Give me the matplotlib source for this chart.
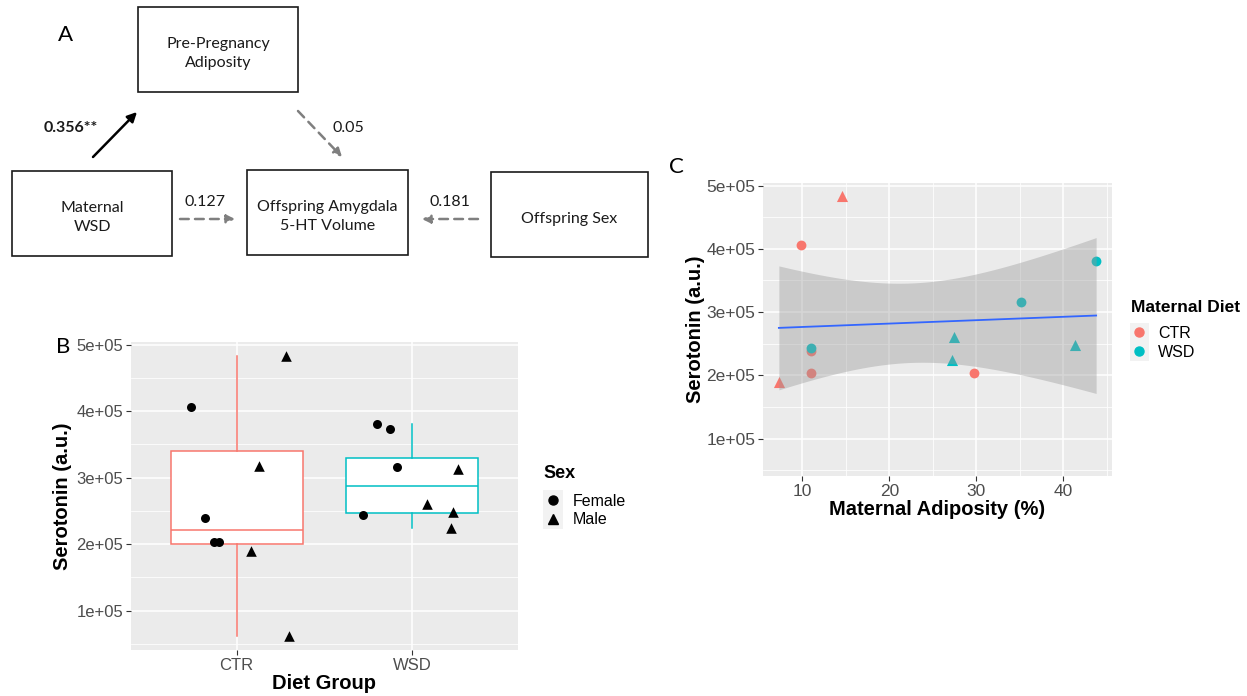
import numpy as np
import matplotlib
matplotlib.use('Agg')
import matplotlib.pyplot as plt
from matplotlib.patches import Rectangle
from matplotlib.lines import Line2D
from matplotlib.ticker import FixedLocator

plt.rcParams['font.family'] = ['Liberation Sans', 'DejaVu Sans']

# --- DATA ---
# Panel B: serotonin by diet group (jitter)
ctr_sero = [4.06e5, 4.83e5, 2.39e5, 2.04e5, 2.03e5, 3.18e5, 1.90e5, 0.62e5]
ctr_sex = ['Female', 'Male', 'Female', 'Female', 'Female', 'Male', 'Male', 'Male']
ctr_jitter = [-0.26, 0.28, -0.18, -0.13, -0.10, 0.13, 0.08, 0.30]
wsd_sero = [3.81e5, 3.73e5, 3.16e5, 2.44e5, 3.13e5, 2.61e5, 2.48e5, 2.25e5]
wsd_sex = ['Female', 'Female', 'Female', 'Female', 'Male', 'Male', 'Male', 'Male']
wsd_jitter = [-0.20, -0.13, -0.09, -0.28, 0.26, 0.08, 0.23, 0.22]
groups = ['CTR', 'WSD']

# Panel C: maternal adiposity vs serotonin
c_adip = [7.3, 9.8, 14.6, 11.0, 11.0, 29.7, 11.0, 27.5, 27.2, 35.1, 43.8, 41.4]
c_sero = [1.89e5, 4.06e5, 4.83e5, 2.39e5, 2.04e5, 2.03e5,
          2.44e5, 2.60e5, 2.25e5, 3.16e5, 3.81e5, 2.48e5]
c_diet = ['CTR', 'CTR', 'CTR', 'CTR', 'CTR', 'CTR',
          'WSD', 'WSD', 'WSD', 'WSD', 'WSD', 'WSD']
c_sex = ['Male', 'Female', 'Male', 'Female', 'Female', 'Female',
         'Female', 'Male', 'Male', 'Female', 'Female', 'Male']

y_ticks = [1e5, 2e5, 3e5, 4e5, 5e5]
y_labels = ['1e+05', '2e+05', '3e+05', '4e+05', '5e+05']
y_minor = [0.5e5, 1.5e5, 2.5e5, 3.5e5, 4.5e5]
x_ticks_c = [10, 20, 30, 40]
x_minor_c = [15, 25, 35, 45]

DIET_COL = {'CTR': '#F8766D', 'WSD': '#00BFC4'}
SEX_MARK = {'Female': 'o', 'Male': '^'}
W, H = 1247, 696

fig = plt.figure(figsize=(W / 100, H / 100), dpi=100)
fig.set_facecolor('white')

# --- PANEL A: path diagram (pixel coordinates) ---
ax_a = fig.add_axes([0, 0, 1, 1])
ax_a.set_xlim(0, W)
ax_a.set_ylim(H, 0)
ax_a.axis('off')

diag_font = dict(family=['Lato', 'DejaVu Sans'], fontsize=11.5, color='#1a1a1a')
boxes = [
    (138, 7, 160, 85, 'Pre-Pregnancy\nAdiposity'),
    (12, 171, 160, 85, 'Maternal\nWSD'),
    (247, 170, 161, 85, 'Offspring Amygdala\n5-HT Volume'),
    (491, 172, 157, 85, 'Offspring Sex'),
]
for bx, by, bw, bh, txt in boxes:
    ax_a.add_patch(Rectangle((bx, by), bw, bh, fill=False, ec='#1a1a1a', lw=1.2))
    ax_a.text(bx + bw / 2, by + bh / 2 + 4, txt, ha='center', va='center',
              linespacing=1.45, **diag_font)

ax_a.annotate('', xy=(137, 112), xytext=(93, 157),
              arrowprops=dict(arrowstyle='-|>', color='black', lw=1.8,
                              mutation_scale=14, shrinkA=0, shrinkB=0))


def dashed_arrow(x0, y0, x1, y1):
    ax_a.annotate('', xy=(x1, y1), xytext=(x0, y0),
                  arrowprops=dict(arrowstyle='-|>', color='#7f7f7f', lw=1.8,
                                  linestyle=(0, (3.5, 2.5)), mutation_scale=12,
                                  shrinkA=0, shrinkB=0))


dashed_arrow(298, 111, 342, 157)
dashed_arrow(180, 219, 235, 219)
dashed_arrow(478, 219, 422, 219)

ax_a.text(71, 128, '0.356**', ha='center', va='center', fontweight='bold', **diag_font)
ax_a.text(348, 128, '0.05', ha='center', va='center', **diag_font)
ax_a.text(205, 202, '0.127', ha='center', va='center', **diag_font)
ax_a.text(450, 202, '0.181', ha='center', va='center', **diag_font)

letter_font = dict(family=['Lato', 'DejaVu Sans'], fontsize=16, color='black',
                   ha='center', va='center')
ax_a.text(65, 35, 'A', **letter_font)
ax_a.text(63, 347, 'B', **letter_font)
ax_a.text(676, 167, 'C', **letter_font)

# legend titles and key backgrounds
ax_a.text(543, 474, 'Sex', ha='left', va='center', fontsize=13, fontweight='bold')
ax_a.text(1131, 308, 'Maternal Diet', ha='left', va='center', fontsize=12.5,
          fontweight='bold')
ax_a.add_patch(Rectangle((543, 490), 20, 39, color='#F2F2F2', lw=0))
ax_a.add_patch(Rectangle((1130, 323), 19, 38, color='#F2F2F2', lw=0))


def gg_style(ax, labelsize):
    ax.set_facecolor('#EBEBEB')
    for s in ax.spines.values():
        s.set_visible(False)
    ax.set_axisbelow(True)
    ax.grid(which='major', color='white', lw=1.1)
    ax.grid(which='minor', color='white', lw=0.55)
    ax.tick_params(which='major', length=3.5, width=0.8, color='#333333',
                   labelcolor='#4D4D4D', labelsize=labelsize, pad=2)
    ax.tick_params(which='minor', length=0)


# y limits with ggplot-style 5% expansion
all_b = ctr_sero + wsd_sero
rng = max(all_b) - min(all_b)
ylim = (min(all_b) - 0.05 * rng, max(all_b) + 0.05 * rng)

# --- PANEL B: boxplot ---
ax_b = fig.add_axes([131 / W, 46 / H, 387 / W, 308 / H])
gg_style(ax_b, 12)
bp = ax_b.boxplot([ctr_sero, wsd_sero], positions=[1, 2], widths=0.75, whis=1.5,
                  showfliers=False, patch_artist=True, showcaps=False)
for i, g in enumerate(groups):
    col = DIET_COL[g]
    bp['boxes'][i].set(facecolor='white', edgecolor=col, lw=1.1)
    bp['medians'][i].set(color=col, lw=1.1)
    for wk in bp['whiskers'][2 * i:2 * i + 2]:
        wk.set(color=col, lw=1.1)

for pos, vals, sexes, jit in [(1, ctr_sero, ctr_sex, ctr_jitter),
                              (2, wsd_sero, wsd_sex, wsd_jitter)]:
    for v, sx, j in zip(vals, sexes, jit):
        ax_b.scatter(pos + j, v, marker=SEX_MARK[sx], color='black',
                     s=42 if sx == 'Female' else 58, zorder=3, lw=0)

ax_b.set_xlim(0.4, 2.6)
ax_b.set_ylim(*ylim)
ax_b.set_xticks([1, 2], labels=groups)
ax_b.set_yticks(y_ticks, labels=y_labels)
ax_b.yaxis.set_minor_locator(FixedLocator(y_minor))
ax_b.set_xlabel('Diet Group', fontsize=14.5, fontweight='bold', labelpad=1)
ax_b.set_ylabel('Serotonin (a.u.)', fontsize=14.5, fontweight='bold', labelpad=3)

sex_handles = [Line2D([], [], marker='o', ls='none', color='black', ms=6.5, label='Female'),
               Line2D([], [], marker='^', ls='none', color='black', ms=7.5, label='Male')]
fig.legend(handles=sex_handles, loc='upper left',
           bbox_to_anchor=(545 / W, 1 - 494 / H), frameon=False,
           fontsize=11.5, handlelength=1.0, handletextpad=0.75, labelspacing=0.2,
           borderpad=0, borderaxespad=0)

# --- PANEL C: scatter + lm fit ---
ax_c = fig.add_axes([763 / W, 220 / H, 349 / W, 293 / H])
gg_style(ax_c, 12.5)
for d, sx, xv, yv in zip(c_diet, c_sex, c_adip, c_sero):
    ax_c.scatter(xv, yv, marker=SEX_MARK[sx], color=DIET_COL[d],
                 s=50 if sx == 'Female' else 64, zorder=2, lw=0)

x = np.array(c_adip)
y = np.array(c_sero)
b1, b0 = np.polyfit(x, y, 1)
xs = np.linspace(x.min(), x.max(), 100)
fit = b0 + b1 * xs
resid = y - (b0 + b1 * x)
s_err = np.sqrt(np.sum(resid ** 2) / (len(x) - 2))
se = s_err * np.sqrt(1 / len(x) + (xs - x.mean()) ** 2 / np.sum((x - x.mean()) ** 2))
t_crit = 2.228  # t(0.975, df=10)
ax_c.fill_between(xs, fit - t_crit * se, fit + t_crit * se, color='#999999',
                  alpha=0.4, lw=0, zorder=3)
ax_c.plot(xs, fit, color='#3366FF', lw=1.3, zorder=4)

xr = x.max() - x.min()
ax_c.set_xlim(x.min() - 0.05 * xr, x.max() + 0.05 * xr)
ax_c.set_ylim(*ylim)
ax_c.set_xticks(x_ticks_c)
ax_c.xaxis.set_minor_locator(FixedLocator(x_minor_c))
ax_c.set_yticks(y_ticks, labels=y_labels)
ax_c.yaxis.set_minor_locator(FixedLocator(y_minor))
ax_c.set_xlabel('Maternal Adiposity (%)', fontsize=14.5, fontweight='bold', labelpad=1)
ax_c.set_ylabel('Serotonin (a.u.)', fontsize=14.5, fontweight='bold', labelpad=1)

diet_handles = [Line2D([], [], marker='o', ls='none', color=DIET_COL[g], ms=6.5, label=g)
                for g in groups]
fig.legend(handles=diet_handles, loc='upper left',
           bbox_to_anchor=(1131 / W, 1 - 326 / H), frameon=False,
           fontsize=11.5, handlelength=1.0, handletextpad=0.7, labelspacing=0.25,
           borderpad=0, borderaxespad=0)

fig.savefig('out.png', dpi=100, facecolor='white')
